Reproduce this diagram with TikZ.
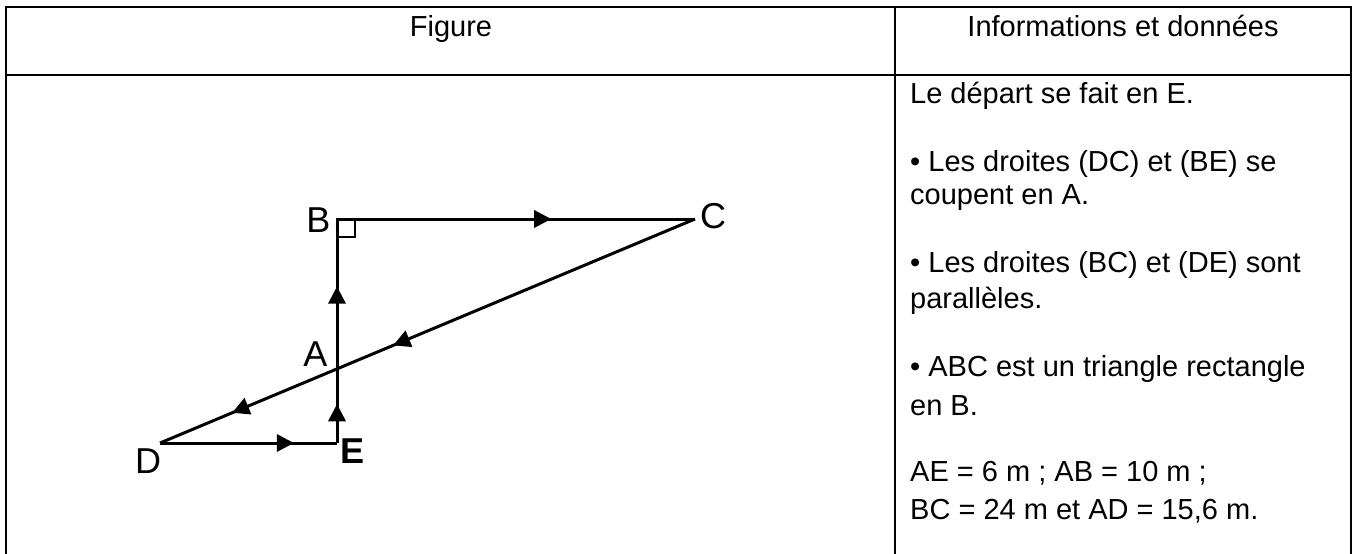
\documentclass[tikz,border=0pt]{standalone}
\usepackage{fontspec}
\setmainfont{Liberation Sans}
\usetikzlibrary{decorations.markings,arrows.meta}

\tikzset{
  grid line/.style={line width=2pt,black},
  seg/.style={line width=3pt,black},
  tip at/.style={postaction={decorate,decoration={markings,
    mark=at position #1 with {\arrow[line width=0pt]{Triangle[length=17pt,width=18pt]}}}}},
  info/.style={anchor=base west,inner sep=0pt,font=\fontsize{29}{34}\selectfont},
  head/.style={anchor=base,inner sep=0pt,font=\fontsize{29}{34}\selectfont},
  pt/.style={inner sep=0pt,font=\fontsize{36}{42}\selectfont}
}

\begin{document}
\begin{tikzpicture}[x=1pt,y=-1pt]
 \useasboundingbox (0,0) rectangle (1352,554);

 % table, open at the foot of the page
 \draw[grid line] (6,554) -- (6,7) -- (1350.5,7) -- (1350.5,554);
 \draw[grid line] (6,75) -- (1350.5,75);
 \draw[grid line] (895,7) -- (895,554);

 \node[head] (figtitle) at (451,36) {Figure};
 \node[head] (infotitle) at (1123,36) {Informations et données};

 % points of the figure
 \coordinate (B) at (337,219);
 \coordinate (C) at (695,219);
 \coordinate (D) at (160,443);
 \coordinate (E) at (337,443);

 \draw[seg,tip at=0.598] (B) -- (C);
 \draw[seg,tip at=0.564,tip at=0.865] (C) -- (D);
 \draw[seg,tip at=0.756] (D) -- (E);
 \draw[seg,tip at=0.173,tip at=0.698] (E) -- (B);
 \draw[line width=1.8pt] (337,219) rectangle (355,237);

 \node[pt] (lblB) at (318.5,220) {B};
 \node[pt] (lblC) at (713,216) {C};
 \node[pt] (lblA) at (315.5,354.5) {A};
 \node[pt] (lblD) at (148,461) {D};
 \node[pt,font=\fontsize{36}{42}\selectfont\bfseries] (lblE) at (353,451.5) {E};

 % right column
 \node[info] (l1) at (910,103) {Le départ se fait en E.};
 \node[info] (l2) at (910,171) {• Les droites (DC) et (BE) se};
 \node[info] (l3) at (910,204) {coupent en A.};
 \node[info] (l4) at (910,272) {• Les droites (BC) et (DE) sont};
 \node[info] (l5) at (910,308) {parallèles.};
 \node[info] (l6) at (910,376) {• ABC est un triangle rectangle};
 \node[info] (l7) at (910,415) {en B.};
 \node[info] (l8) at (910,481) {AE = 6 m ; AB = 10 m ;};
 \node[info] (l9) at (910,519) {BC = 24 m et AD = 15,6 m.};
\end{tikzpicture}
\end{document}
